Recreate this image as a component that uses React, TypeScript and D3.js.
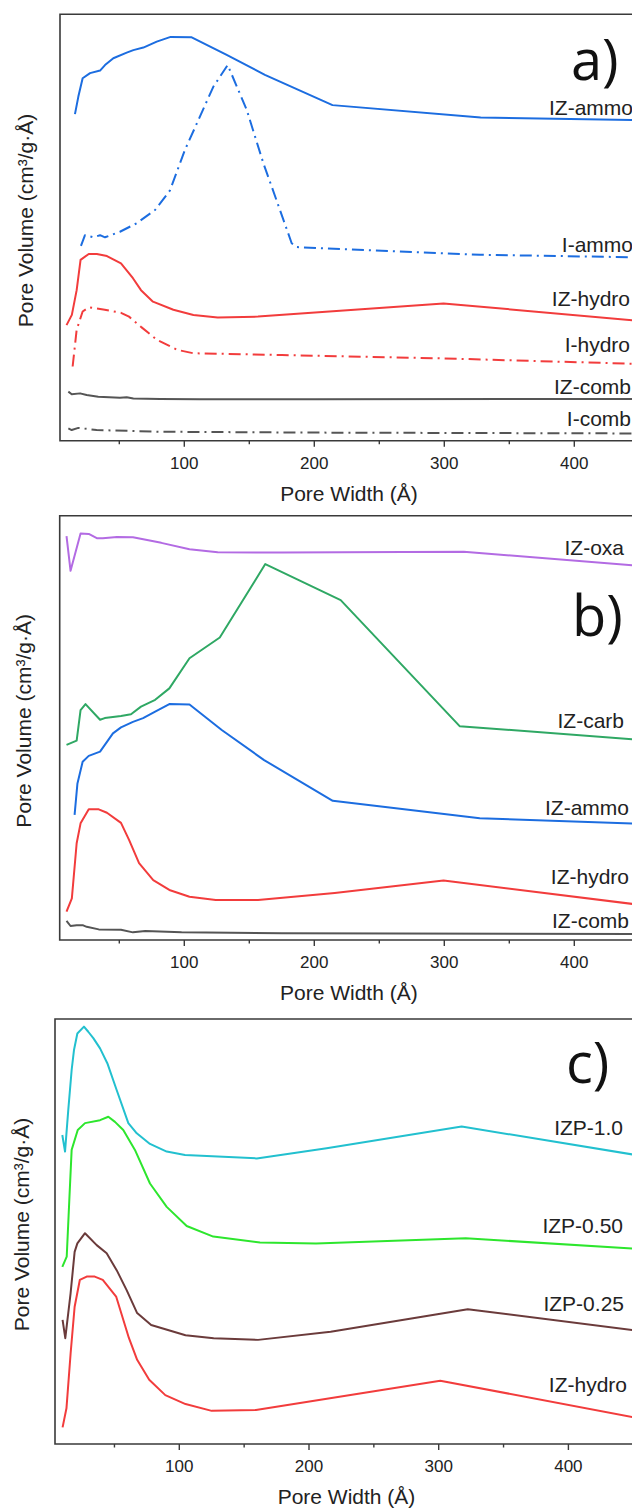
import React from "react";
import * as d3 from "d3";

// Pore size distributions: [pore width (Å), offset pore volume (relative units, 0–100 of panel height)]
const izAmmoA = [[15.9,76.6],[18.5,80.7],[21.8,85.0],[27.5,86.2],[35.2,86.8],[39,88.1],[45.4,89.7],[55.7,91.0],[60.8,91.6],[68.5,92.2],[78.8,93.6],[89.5,94.7],[105.7,94.6],[132.6,90.5],[162,85.8],[214,78.7],[328,75.8],[450,75.2]];
const iAmmoA = [[20.5,45.7],[23.6,48.2],[30,47.7],[35.2,48.2],[39,47.7],[50.5,49.0],[63.4,51.0],[77.5,54.1],[89,58.7],[100.5,68.2],[112,76.0],[122.3,83.0],[133.4,88.1],[148,77.6],[160.8,65.1],[173.6,54.1],[182.6,46.3],[186.5,45.4],[327.5,43.6],[450,43.0]];
const izHydroA = [[9.4,27.1],[13.5,29.5],[17.2,35.3],[20.2,42.4],[26.5,43.8],[32.7,43.8],[40.5,43.3],[51.3,41.6],[60.5,38.1],[66.7,35.3],[75.9,32.6],[91.6,30.7],[107,29.5],[125.7,28.9],[156.7,29.1],[299.4,32.2],[450,28.1]];
const iHydroA = [[14.1,17.4],[17.2,26.0],[21.8,30.3],[26.5,31.3],[38.8,30.7],[51.3,30.0],[57.5,29.1],[66.7,26.7],[79.2,23.6],[94.7,21.3],[107,20.5],[175,20.1],[299.4,19.3],[450,18.0]];
const izCombA = [[10.8,11.5],[13.4,10.9],[19.8,11.1],[24.9,10.7],[33.8,10.3],[50.5,10.1],[55.7,10.2],[60.8,9.9],[81.3,9.8],[112,9.7],[201,9.7],[450,9.8]];
const iCombA = [[10.8,2.9],[13.4,2.5],[18.5,3.0],[32.6,2.5],[81.3,2.1],[201,1.9],[450,1.7]];

const izOxaB = [[9.4,95.2],[12.5,87.0],[20.2,95.8],[26.5,95.7],[32.7,94.7],[37.3,94.7],[48.2,95.0],[60.5,94.9],[82.3,93.6],[104,92.1],[125.7,91.4],[175,91.3],[315,91.5],[450,88.2]];
const izCarbB = [[9.4,46.0],[17.2,47.0],[20.2,54.2],[24,55.6],[35.2,51.9],[38.8,52.3],[51.3,52.8],[59,53.2],[66.7,55.0],[77.6,56.6],[88.5,59.3],[104,66.4],[127.3,71.3],[162.3,88.6],[220.3,80.1],[311.8,50.4],[450,47.2]];
const izAmmoB = [[15.6,29.5],[17.8,36.9],[21.8,42.0],[26.5,43.4],[35.2,44.4],[40.5,46.7],[45.1,48.7],[51.3,50.1],[60.5,51.4],[68.3,52.3],[77.6,53.8],[88.5,55.6],[104,55.5],[128.8,49.5],[161.4,42.4],[214.2,32.8],[327.3,28.7],[450,27.4]];
const izHydroB = [[9.4,6.7],[13.5,9.8],[17.2,22.8],[20.2,27.5],[26.5,30.8],[34.2,30.8],[40.5,30.0],[51.3,27.6],[57.5,23.6],[65.2,18.1],[76.1,14.1],[88.5,11.8],[104,10.2],[124.2,9.4],[156.7,9.4],[215.7,11.1],[299.4,14.0],[450,8.3]];
const izCombB = [[9.4,4.5],[12.5,3.3],[17.2,3.5],[21.8,3.5],[24.9,3.1],[34.2,2.5],[51.3,2.4],[60.5,1.8],[70,2.1],[97.9,1.8],[175,1.6],[450,1.4]];

const izp10C = [[9.8,72.7],[11.9,68.8],[14.4,78.6],[17,88.0],[18.8,92.7],[21.4,96.6],[26.5,98.2],[29.8,97.0],[33.7,95.5],[38.9,93.1],[44.5,89.6],[51.7,83.3],[60.7,75.5],[67.2,73.1],[77.4,70.6],[90.3,68.8],[104.4,68.0],[159.7,67.2],[213.6,69.6],[317.7,74.7],[450,68.1]];
const izp050C = [[9.8,41.7],[13.2,44.1],[15.2,57.4],[17,69.2],[21.7,73.9],[27.3,75.5],[38.9,76.2],[45.3,77.0],[50.4,75.8],[56.8,73.9],[65.8,69.2],[77.4,61.3],[90.3,55.8],[105.7,51.3],[126.2,48.8],[162.2,47.4],[205.4,47.2],[320.8,48.4],[450,46.0]];
const izp025C = [[10,29.2],[12.1,24.9],[16.2,35.5],[19.3,45.2],[21.4,47.2],[27.3,49.6],[36.3,46.8],[44,44.9],[51.7,40.9],[59.4,36.2],[67.5,30.8],[78.3,28.0],[104.8,25.6],[126.5,24.9],[160.7,24.5],[216.7,26.4],[322.4,31.7],[450,26.8]];
const izHydroC = [[10,3.9],[13,8.4],[16.2,21.3],[19.3,32.3],[23.3,38.6],[28.6,39.4],[34.8,39.4],[41,38.6],[51.3,34.7],[61.2,24.9],[67.5,19.8],[76.8,15.1],[89.2,11.5],[104.8,9.4],[125,7.8],[159.1,8.0],[301.2,14.9],[450,6.3]];

const majorTicks = [100, 200, 300, 400];
const minorTicks = [50, 150, 250, 350];
const panelLetters = ["a)", "b)", "c)"];
const xTitle = "Pore Width (Å)";
const yTitle = "Pore Volume (cm³/g·Å)";

const BLUE = "#1c6de0";
const RED = "#f23c3c";
const GREY = "#555555";
const DASHDOT = "12,5,2,5";

const W = 632;
const H = 1511;
const FONT = "'Liberation Sans', Arial, sans-serif";

type Series = { data: number[][]; color: string; dash?: string; label: string; lx: number; ly: number };
type Panel = {
  top: number; bottom: number; left: number; x0: number; per100: number;
  letterX: number; letterY: number; yTitleX: number; series: Series[];
};

const panels: Panel[] = [
  {
    top: 14.3, bottom: 440.7, left: 60, x0: 54.3, per100: 130,
    letterX: 571, letterY: 80, yTitleX: 26,
    series: [
      { data: izAmmoA, color: BLUE, label: "IZ-ammo", lx: 633, ly: 115 },
      { data: iAmmoA, color: BLUE, dash: DASHDOT, label: "I-ammo", lx: 633, ly: 252 },
      { data: izHydroA, color: RED, label: "IZ-hydro", lx: 630, ly: 306 },
      { data: iHydroA, color: RED, dash: DASHDOT, label: "I-hydro", lx: 630, ly: 352 },
      { data: izCombA, color: GREY, label: "IZ-comb", lx: 631, ly: 394 },
      { data: iCombA, color: GREY, dash: DASHDOT, label: "I-comb", lx: 631, ly: 426 },
    ],
  },
  {
    top: 515.7, bottom: 940, left: 59.7, x0: 54.3, per100: 130,
    letterX: 572, letterY: 636, yTitleX: 24,
    series: [
      { data: izOxaB, color: "#b36be3", label: "IZ-oxa", lx: 624, ly: 555 },
      { data: izCarbB, color: "#2fa864", label: "IZ-carb", lx: 624, ly: 728 },
      { data: izAmmoB, color: BLUE, label: "IZ-ammo", lx: 629, ly: 815 },
      { data: izHydroB, color: RED, label: "IZ-hydro", lx: 629, ly: 884 },
      { data: izCombB, color: GREY, label: "IZ-comb", lx: 629, ly: 928 },
    ],
  },
  {
    top: 1019, bottom: 1444, left: 55, x0: 49.6, per100: 129.7,
    letterX: 566, letterY: 1083, yTitleX: 22,
    series: [
      { data: izp10C, color: "#22c0cf", label: "IZP-1.0", lx: 623, ly: 1135 },
      { data: izp050C, color: "#2de62d", label: "IZP-0.50", lx: 623, ly: 1233 },
      { data: izp025C, color: "#6b3b3b", label: "IZP-0.25", lx: 624, ly: 1311 },
      { data: izHydroC, color: RED, label: "IZ-hydro", lx: 627, ly: 1392 },
    ],
  },
];

function PanelView({ p, idx }: { p: Panel; idx: number }) {
  const x = d3.scaleLinear().domain([0, 500]).range([p.x0, p.x0 + 5 * p.per100]);
  const y = d3.scaleLinear().domain([0, 100]).range([p.bottom, p.top]);
  const line = d3.line<number[]>().x((d) => x(d[0])).y((d) => y(d[1]));
  const clipId = `clip-${idx}`;
  const midY = (p.top + p.bottom) / 2 - 7;
  const midX = (p.left + W) / 2 + 3;
  return (
    <g>
      <defs>
        <clipPath id={clipId}>
          <rect x={p.left} y={p.top} width={W - p.left} height={p.bottom - p.top} />
        </clipPath>
      </defs>
      <g clipPath={`url(#${clipId})`}>
        {p.series.map((s, i) => (
          <path key={i} d={line(s.data) || ""} fill="none" stroke={s.color} strokeWidth={2}
            strokeDasharray={s.dash} strokeLinejoin="round" />
        ))}
      </g>
      <path d={`M${W},${p.top}H${p.left}V${p.bottom}H${W}`} fill="none" stroke="#3a3a3a" strokeWidth={1.6} />
      {majorTicks.map((t) => (
        <g key={`M${t}`}>
          <line x1={x(t)} x2={x(t)} y1={p.bottom} y2={p.bottom + 6} stroke="#3a3a3a" strokeWidth={1.4} />
          <text x={x(t)} y={p.bottom + 28} textAnchor="middle" fontSize={17} fontFamily={FONT} fill="#222">{t}</text>
        </g>
      ))}
      {minorTicks.map((t) => (
        <line key={`m${t}`} x1={x(t)} x2={x(t)} y1={p.bottom} y2={p.bottom + 3.5} stroke="#3a3a3a" strokeWidth={1.4} />
      ))}
      <text x={midX} y={p.bottom + 60} textAnchor="middle" fontSize={21} fontFamily={FONT} fill="#222">{xTitle}</text>
      <text transform={`translate(${p.yTitleX + 7},${midY}) rotate(-90)`} textAnchor="middle" fontSize={21}
        fontFamily={FONT} fill="#222">{yTitle}</text>
      {p.series.map((s, i) => (
        <text key={`l${i}`} x={s.lx} y={s.ly} textAnchor="end" fontSize={21} fontFamily={FONT} fill="#222">{s.label}</text>
      ))}
      <text x={p.letterX} y={p.letterY} fontSize={56} fontFamily="'Open Sans', sans-serif" fill="#111">{panelLetters[idx]}</text>
    </g>
  );
}

export default function App() {
  return (
    <svg width={W} height={H} viewBox={`0 0 ${W} ${H}`}
      style={{ position: "absolute", left: 0, top: 0, background: "#fff", display: "block" }}>
      <rect width={W} height={H} fill="#fff" />
      {panels.map((p, i) => (
        <PanelView key={i} p={p} idx={i} />
      ))}
    </svg>
  );
}
